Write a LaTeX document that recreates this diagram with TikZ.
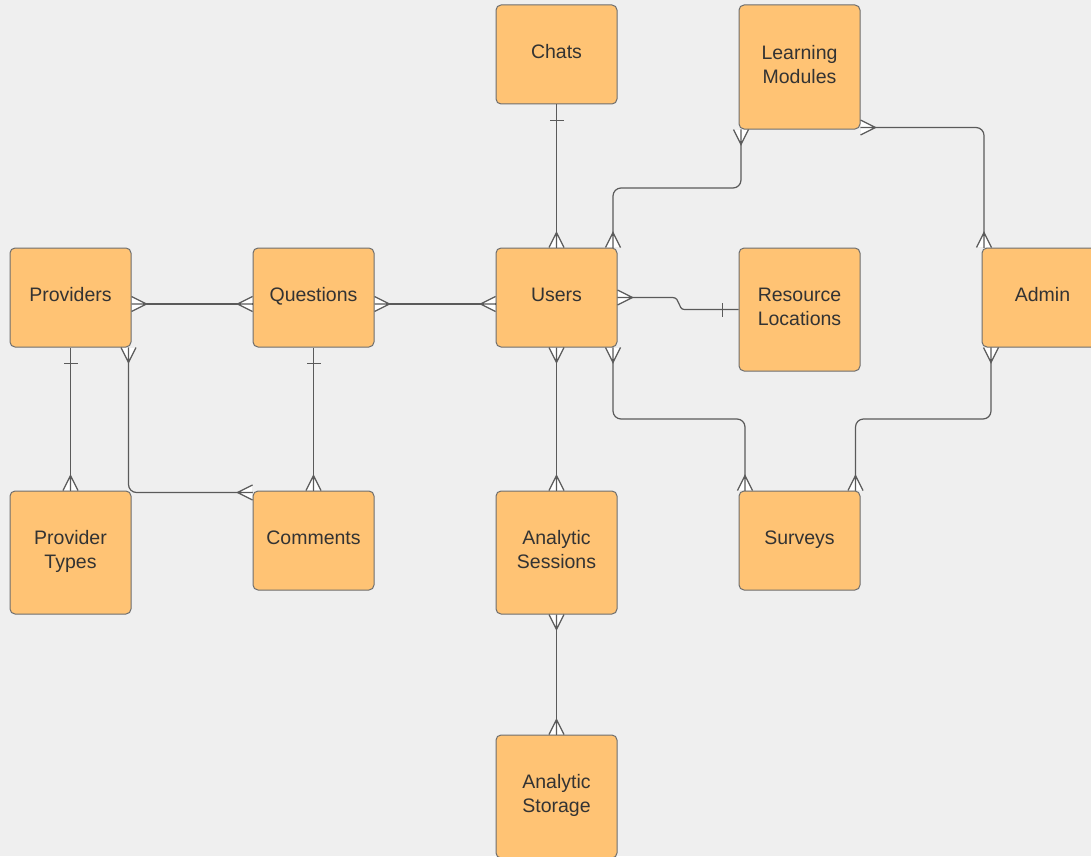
\documentclass[tikz,border=0pt]{standalone}
\usepackage{fontspec}
\setmainfont{Liberation Sans}
\usetikzlibrary{calc}
\definecolor{bg}{HTML}{EFEFEF}
\definecolor{boxfill}{HTML}{FFC374}
\definecolor{boxline}{HTML}{6E6E6E}
\definecolor{txt}{HTML}{333333}
\definecolor{lin}{HTML}{5A5A5A}
\tikzset{
  ent/.style={draw=boxline, fill=boxfill, rounded corners=5pt, minimum width=121pt,
    minimum height=99pt, text=txt, font=\fontsize{19.5}{24}\selectfont, align=center,
    line width=1pt, inner sep=0pt, text depth=5.6pt},
  tall/.style={ent, minimum height=123pt},
  conn/.style={draw=lin, line width=1.2pt},
  crow/.pic={\fill[white] (0.6,-7.5) -- (15,0) -- (0.6,7.5) -- cycle;
    \draw[conn] (0,-7.5) -- (15,0) -- (0,7.5) (0,0) -- (15,0);},
  onebar/.pic={\draw[conn] (16,-7) -- (16,7);}
}
\begin{document}
\begin{tikzpicture}[x=1pt,y=-1pt]
\useasboundingbox (0,0) rectangle (1091,856);
\fill[bg] (0,0) rectangle (1091,856);
\clip (0,0) rectangle (1091,856);

\node[ent] (chats) at (556.5,54.5) {Chats};
\node[ent, minimum height=124pt] (lm) at (799.5,67) {Learning\\Modules};
\node[ent] (providers) at (70.5,297.5) {Providers};
\node[ent] (questions) at (313.5,297.5) {Questions};
\node[ent] (users) at (556.5,297.5) {Users};
\node[tall] (rl) at (799.5,309.5) {Resource\\Locations};
\node[ent] (admin) at (1042.5,297.5) {Admin};
\node[tall] (ptypes) at (70.5,552.5) {Provider\\Types};
\node[ent] (comments) at (313.5,540.5) {Comments};
\node[tall] (asess) at (556.5,552.5) {Analytic\\Sessions};
\node[ent] (surveys) at (799.5,540.5) {Surveys};
\node[tall] (astore) at (556.5,796.5) {Analytic\\Storage};

\coordinate (y188) at (0,188);
\coordinate (y419) at (0,419);

% Chats - Users
\draw[conn] (chats.south) -- (users.north);
\pic[rotate=-90] at (chats.south) {onebar};
\pic[rotate=90] at (users.north) {crow};

% Users - Learning Modules
\coordinate (u1) at ([xshift=56.5pt]users.north);
\coordinate (l1) at ([xshift=-58.5pt]lm.south);
\draw[conn, rounded corners=8pt] (u1) -- (u1 |- y188) -- (l1 |- y188) -- (l1);
\pic[rotate=90] at (u1) {crow};
\pic[rotate=-90] at (l1) {crow};

% Learning Modules - Admin
\coordinate (l2) at ([yshift=2pt]lm.south east);
\coordinate (a1) at ([xshift=-58.5pt]admin.north);
\draw[conn, rounded corners=8pt] (l2) -| (a1);
\pic[rotate=0] at (l2) {crow};
\pic[rotate=90] at (a1) {crow};

% Providers - Questions
\coordinate (p1) at ([yshift=-6.5pt]providers.east);
\coordinate (q1) at ([yshift=-6.5pt]questions.west);
\draw[conn] (p1) -- (q1);
\pic[rotate=0] at (p1) {crow};
\pic[rotate=180] at (q1) {crow};

% Questions - Users
\coordinate (q2) at ([yshift=-6.5pt]questions.east);
\coordinate (u3) at ([yshift=-6.5pt]users.west);
\draw[conn] (q2) -- (u3);
\pic[rotate=0] at (q2) {crow};
\pic[rotate=180] at (u3) {crow};

% Users - Resource Locations
\draw[conn] (users.east) -- ++(55,0) .. controls +(8,0) and +(-7,0) .. ++(12,12) -- (rl.west);
\pic[rotate=0] at (users.east) {crow};
\pic[rotate=180] at (rl.west) {onebar};

% Providers - Provider Types
\draw[conn] (providers.south) -- (ptypes.north);
\pic[rotate=-90] at (providers.south) {onebar};
\pic[rotate=90] at (ptypes.north) {crow};

% Providers - Comments
\coordinate (p2) at ([xshift=-3pt]providers.south east);
\coordinate (c2) at ([yshift=-2pt]comments.north west);
\draw[conn, rounded corners=8pt] (p2) |- (c2);
\pic[rotate=-90] at (p2) {crow};
\pic[rotate=180] at (c2) {crow};

% Questions - Comments
\draw[conn] (questions.south) -- (comments.north);
\pic[rotate=-90] at (questions.south) {onebar};
\pic[rotate=90] at (comments.north) {crow};

% Users - Analytic Sessions
\draw[conn] (users.south) -- (asess.north);
\pic[rotate=-90] at (users.south) {crow};
\pic[rotate=90] at (asess.north) {crow};

% Users - Surveys
\coordinate (u2) at ([xshift=56.5pt]users.south);
\coordinate (s1) at ([xshift=-54.5pt]surveys.north);
\draw[conn, rounded corners=8pt] (u2) -- (u2 |- y419) -- (s1 |- y419) -- (s1);
\pic[rotate=-90] at (u2) {crow};
\pic[rotate=90] at (s1) {crow};

% Admin - Surveys
\coordinate (a2) at ([xshift=-51.5pt]admin.south);
\coordinate (s2) at ([xshift=56pt]surveys.north);
\draw[conn, rounded corners=8pt] (a2) -- (a2 |- y419) -- (s2 |- y419) -- (s2);
\pic[rotate=-90] at (a2) {crow};
\pic[rotate=90] at (s2) {crow};

% Analytic Sessions - Analytic Storage
\draw[conn] (asess.south) -- (astore.north);
\pic[rotate=-90] at (asess.south) {crow};
\pic[rotate=90] at (astore.north) {crow};
\end{tikzpicture}
\end{document}
